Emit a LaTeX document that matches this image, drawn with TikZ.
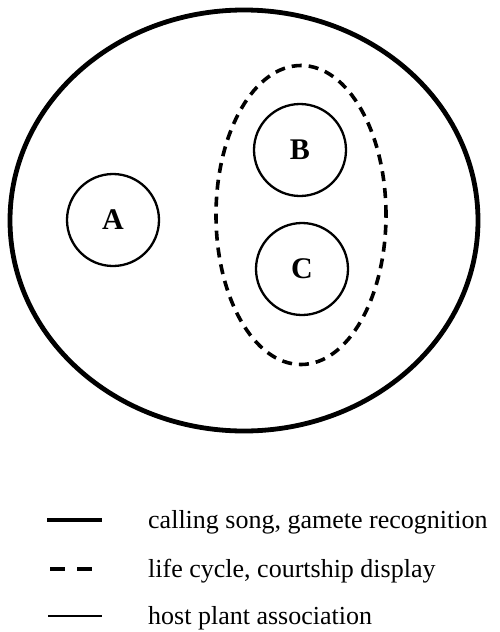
\documentclass[tikz,border=0pt]{standalone}
\usepackage{fontspec}
\setmainfont{Liberation Serif}
\usetikzlibrary{shapes.geometric}
\begin{document}
\begin{tikzpicture}[x=1pt,y=-1pt,
  outerring/.style={draw, ellipse, line width=4.8pt, minimum width=468pt, minimum height=421pt, inner sep=0pt},
  dashring/.style={draw, ellipse, line width=3.6pt, dash pattern=on 10pt off 7pt, minimum width=170pt, minimum height=299pt, inner sep=0pt},
  species/.style={draw, circle, line width=2.3pt, minimum size=92pt, inner sep=0pt, font=\fontsize{30}{32}\selectfont\bfseries},
  legtext/.style={anchor=base west, inner sep=0pt, font=\fontsize{26}{28}\selectfont},
  thickline/.style={line width=4.8pt},
  dashline/.style={line width=3.6pt, dash pattern=on 15pt off 12pt},
  thinline/.style={line width=2.3pt}]
\useasboundingbox (0,0) rectangle (500,632);
\node[outerring] (outer) at (244,220.5) {};
\node[dashring] (group) at (301,215) {};
\node[species] (A) at (113,220) {A};
\node[species] (B) at (300,150) {B};
\node[species] (C) at (302,269) {C};
% legend
\coordinate (l1a) at (47,520); \coordinate (l1b) at (102,520);
\coordinate (l2a) at (50,569); \coordinate (l2b) at (95,569);
\coordinate (l3a) at (48,616); \coordinate (l3b) at (102,616);
\draw[thickline] (l1a) -- (l1b);
\draw[dashline] (l2a) -- (l2b);
\draw[thinline] (l3a) -- (l3b);
\node[legtext] (t1) at (148,528) {calling song, gamete recognition};
\node[legtext] (t2) at (148,577) {life cycle, courtship display};
\node[legtext] (t3) at (148,624) {host plant association};
\end{tikzpicture}
\end{document}
